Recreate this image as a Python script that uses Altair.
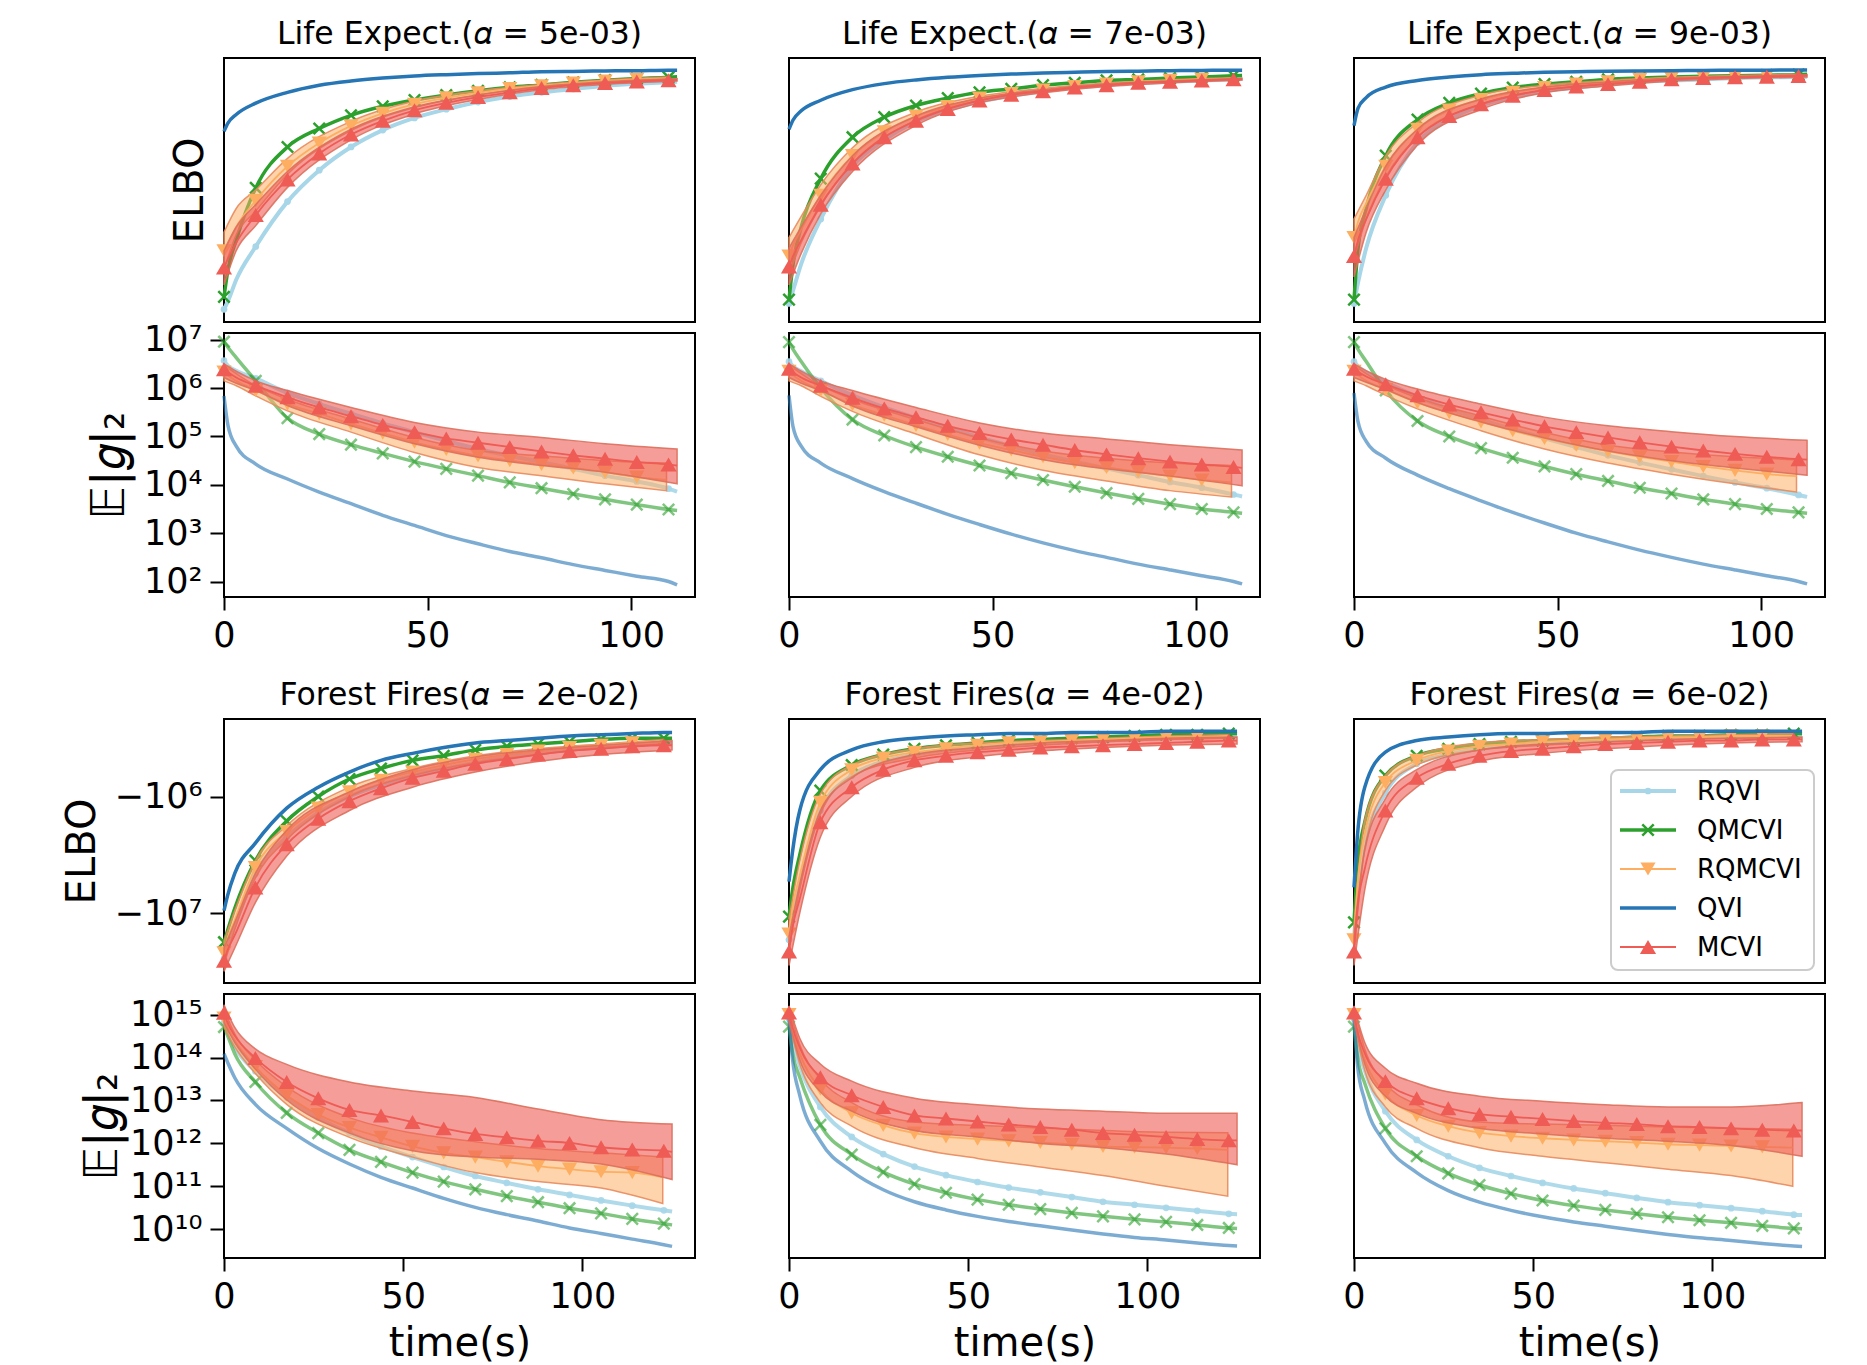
import altair as alt
import pandas as pd

FONT = "DejaVu Sans"
METHODS = ["RQVI", "QMCVI", "RQMCVI", "QVI", "MCVI"]

# ---------------- x grids (seconds) ----------------
MARK_LE = [0, 7.8, 15.6, 23.4, 31.2, 39.0, 46.8, 54.6, 62.4, 70.2, 78.0, 85.8, 93.6, 101.4, 109.2]
X_LE = [0, 1, 3, 7.8, 15.6, 23.4, 31.2, 39.0, 46.8, 54.6, 62.4, 70.2, 78.0, 85.8, 93.6, 101.4, 109.2, 111.3]
X_LE_RQMC = [0, 1, 3, 7.8, 15.6, 23.4, 31.2, 39.0, 46.8, 54.6, 62.4, 70.2, 78.0, 85.8, 93.6, 101.4, 108.7]
BX_LE = [0, 3, 7.8, 15.6, 31.2, 46.8, 62.4, 78.0, 93.6, 111.3]
BX_LE_RQMC = [0, 3, 7.8, 15.6, 31.2, 46.8, 62.4, 78.0, 93.6, 108.7]

MARK_FF = [0, 8.75, 17.5, 26.3, 35.0, 43.8, 52.6, 61.3, 70.1, 78.9, 87.6, 96.4, 105.2, 113.9, 122.7]
X_FF = [0, 1, 3, 8.75, 17.5, 26.3, 35.0, 43.8, 52.6, 61.3, 70.1, 78.9, 87.6, 96.4, 105.2, 113.9, 122.7, 125.0]
X_FF_RQMC = [0, 1, 3, 8.75, 17.5, 26.3, 35.0, 43.8, 52.6, 61.3, 70.1, 78.9, 87.6, 96.4, 105.2, 113.9, 122.4]
BX_FF = [0, 3, 8.75, 17.5, 35.0, 52.6, 70.1, 87.6, 105.2, 125.0]
BX_FF_RQMC = [0, 3, 8.75, 17.5, 35.0, 52.6, 70.1, 87.6, 105.2, 122.4]

LE_TITLES = ["Life Expect.(𝛼 = 5e-03)", "Life Expect.(𝛼 = 7e-03)", "Life Expect.(𝛼 = 9e-03)"]
FF_TITLES = ["Forest Fires(𝛼 = 2e-02)", "Forest Fires(𝛼 = 4e-02)", "Forest Fires(𝛼 = 6e-02)"]

# ---------------- values: log10(-ELBO) and log10(E|g|2) ----------------
LE1_ELBO = {
    "QVI": [3.278, 3.246, 3.214, 3.171, 3.130, 3.103, 3.087, 3.076, 3.068, 3.063, 3.059, 3.056, 3.052, 3.051, 3.049, 3.048, 3.046, 3.046],
    "QMCVI": [3.905, 3.80, 3.69, 3.492, 3.337, 3.267, 3.217, 3.183, 3.159, 3.140, 3.124, 3.111, 3.102, 3.092, 3.084, 3.078, 3.073, 3.071],
    "RQVI": [3.952, 3.92, 3.84, 3.714, 3.544, 3.425, 3.337, 3.273, 3.227, 3.194, 3.167, 3.146, 3.130, 3.117, 3.106, 3.098, 3.092, 3.090],
    "RQMCVI": [3.73, 3.70, 3.64, 3.54, 3.41, 3.322, 3.257, 3.21, 3.175, 3.151, 3.132, 3.116, 3.105, 3.095, 3.087, 3.081, 3.077],
    "MCVI": [3.794, 3.76, 3.70, 3.595, 3.46, 3.362, 3.29, 3.238, 3.198, 3.17, 3.148, 3.13, 3.114, 3.103, 3.095, 3.089, 3.084, 3.083],
}
LE1_ELBO_BAND = {
    "RQMCVI": ([3.66, 3.57, 3.50, 3.38, 3.24, 3.163, 3.125, 3.10, 3.083, 3.072], [3.80, 3.67, 3.58, 3.44, 3.275, 3.188, 3.14, 3.11, 3.092, 3.08]),
    "MCVI": ([3.73, 3.64, 3.555, 3.43, 3.27, 3.185, 3.14, 3.108, 3.09, 3.079], [3.86, 3.73, 3.635, 3.49, 3.31, 3.212, 3.157, 3.12, 3.10, 3.087]),
}
LE2_ELBO = {
    "QVI": [3.27, 3.235, 3.20, 3.16, 3.12, 3.097, 3.083, 3.073, 3.066, 3.061, 3.057, 3.054, 3.051, 3.05, 3.048, 3.047, 3.046, 3.046],
    "QMCVI": [3.915, 3.78, 3.64, 3.457, 3.30, 3.224, 3.18, 3.152, 3.13, 3.117, 3.103, 3.094, 3.085, 3.081, 3.076, 3.072, 3.067, 3.066],
    "RQVI": [3.93, 3.88, 3.78, 3.61, 3.41, 3.31, 3.24, 3.197, 3.166, 3.143, 3.126, 3.112, 3.103, 3.094, 3.09, 3.085, 3.081, 3.08],
    "RQMCVI": [3.75, 3.71, 3.65, 3.52, 3.37, 3.28, 3.22, 3.184, 3.152, 3.135, 3.121, 3.108, 3.099, 3.09, 3.085, 3.081, 3.078],
    "MCVI": [3.79, 3.75, 3.69, 3.556, 3.40, 3.30, 3.238, 3.193, 3.161, 3.139, 3.126, 3.112, 3.103, 3.094, 3.09, 3.085, 3.081, 3.08],
}
LE2_ELBO_BAND = {
    "RQMCVI": ([3.68, 3.60, 3.48, 3.34, 3.205, 3.145, 3.115, 3.095, 3.082, 3.075], [3.82, 3.70, 3.56, 3.40, 3.235, 3.16, 3.127, 3.104, 3.088, 3.081]),
    "MCVI": ([3.72, 3.64, 3.52, 3.37, 3.22, 3.152, 3.12, 3.098, 3.086, 3.077], [3.86, 3.74, 3.59, 3.43, 3.255, 3.17, 3.132, 3.108, 3.094, 3.083]),
}
LE3_ELBO = {
    "QVI": [3.256, 3.19, 3.15, 3.11, 3.085, 3.072, 3.063, 3.058, 3.054, 3.052, 3.05, 3.049, 3.048, 3.047, 3.046, 3.046, 3.045, 3.045],
    "QMCVI": [3.915, 3.72, 3.57, 3.37, 3.233, 3.17, 3.135, 3.112, 3.099, 3.09, 3.081, 3.076, 3.072, 3.069, 3.067, 3.065, 3.063, 3.062],
    "RQVI": [3.93, 3.85, 3.72, 3.52, 3.32, 3.233, 3.18, 3.148, 3.126, 3.112, 3.099, 3.09, 3.085, 3.081, 3.076, 3.073, 3.072, 3.071],
    "RQMCVI": [3.68, 3.62, 3.55, 3.41, 3.27, 3.197, 3.157, 3.13, 3.112, 3.099, 3.09, 3.081, 3.076, 3.072, 3.07, 3.067, 3.066],
    "MCVI": [3.75, 3.69, 3.61, 3.457, 3.30, 3.22, 3.175, 3.143, 3.121, 3.108, 3.099, 3.09, 3.081, 3.076, 3.073, 3.071, 3.068, 3.067],
}
LE3_ELBO_BAND = {
    "RQMCVI": ([3.61, 3.52, 3.37, 3.245, 3.14, 3.103, 3.085, 3.073, 3.066, 3.062], [3.76, 3.61, 3.45, 3.30, 3.175, 3.122, 3.096, 3.08, 3.074, 3.07]),
    "MCVI": ([3.68, 3.57, 3.41, 3.27, 3.155, 3.11, 3.09, 3.076, 3.069, 3.063], [3.83, 3.66, 3.50, 3.33, 3.195, 3.132, 3.106, 3.087, 3.078, 3.072]),
}

LE1_GRAD = {
    "QVI": [5.84, 5.22, 4.80, 4.43, 4.12, 3.85, 3.61, 3.37, 3.16, 2.95, 2.78, 2.62, 2.49, 2.35, 2.23, 2.11, 2.00, 1.93],
    "QMCVI": [6.96, 6.84, 6.63, 6.15, 5.38, 5.05, 4.83, 4.65, 4.48, 4.33, 4.19, 4.05, 3.93, 3.81, 3.70, 3.59, 3.49, 3.47],
    "RQVI": [6.57, 6.46, 6.36, 6.20, 5.90, 5.67, 5.47, 5.27, 5.09, 4.91, 4.74, 4.60, 4.47, 4.33, 4.19, 4.07, 3.92, 3.86],
    "RQMCVI": [6.33, 6.26, 6.15, 5.95, 5.67, 5.47, 5.26, 5.07, 4.88, 4.73, 4.60, 4.50, 4.42, 4.35, 4.26, 4.16, 4.10],
    "MCVI": [6.39, 6.33, 6.22, 6.05, 5.81, 5.60, 5.42, 5.24, 5.09, 4.96, 4.87, 4.78, 4.69, 4.61, 4.54, 4.47, 4.42, 4.40],
}
LE1_GRAD_BAND = {
    "RQMCVI": ([6.15, 6.05, 5.84, 5.53, 5.09, 4.67, 4.36, 4.19, 4.02, 3.88], [6.47, 6.30, 6.05, 5.77, 5.36, 4.98, 4.71, 4.60, 4.50, 4.45]),
    "MCVI": ([6.22, 6.10, 5.95, 5.64, 5.22, 4.85, 4.57, 4.40, 4.26, 4.02], [6.50, 6.35, 6.15, 5.95, 5.60, 5.29, 5.09, 4.98, 4.85, 4.74]),
}
LE2_GRAD = {
    "QVI": [5.85, 5.20, 4.80, 4.45, 4.13, 3.86, 3.62, 3.39, 3.18, 2.98, 2.80, 2.64, 2.50, 2.36, 2.24, 2.12, 2.00, 1.95],
    "QMCVI": [6.95, 6.80, 6.55, 6.00, 5.35, 5.02, 4.78, 4.58, 4.40, 4.24, 4.10, 3.96, 3.83, 3.71, 3.60, 3.50, 3.43, 3.41],
    "RQVI": [6.55, 6.45, 6.35, 6.15, 5.85, 5.60, 5.38, 5.18, 4.98, 4.80, 4.63, 4.48, 4.34, 4.20, 4.06, 3.94, 3.80, 3.76],
    "RQMCVI": [6.35, 6.27, 6.15, 5.95, 5.66, 5.44, 5.23, 5.04, 4.86, 4.72, 4.58, 4.46, 4.36, 4.27, 4.18, 4.10, 4.05],
    "MCVI": [6.40, 6.33, 6.22, 6.05, 5.80, 5.58, 5.40, 5.22, 5.07, 4.94, 4.83, 4.72, 4.63, 4.55, 4.48, 4.42, 4.37, 4.35],
}
LE2_GRAD_BAND = {
    "RQMCVI": ([6.15, 6.05, 5.83, 5.52, 5.05, 4.62, 4.30, 4.08, 3.88, 3.75], [6.48, 6.30, 6.05, 5.77, 5.35, 4.97, 4.70, 4.55, 4.45, 4.40]),
    "MCVI": ([6.22, 6.10, 5.95, 5.63, 5.20, 4.82, 4.52, 4.33, 4.18, 3.98], [6.50, 6.35, 6.15, 5.95, 5.60, 5.28, 5.07, 4.95, 4.83, 4.72]),
}
LE3_GRAD = {
    "QVI": [5.90, 5.30, 4.90, 4.55, 4.20, 3.92, 3.67, 3.43, 3.21, 3.00, 2.82, 2.65, 2.50, 2.36, 2.24, 2.12, 2.00, 1.95],
    "QMCVI": [6.95, 6.80, 6.55, 5.95, 5.32, 5.00, 4.76, 4.56, 4.38, 4.22, 4.08, 3.94, 3.82, 3.70, 3.60, 3.50, 3.43, 3.41],
    "RQVI": [6.55, 6.45, 6.33, 6.12, 5.82, 5.57, 5.35, 5.15, 4.96, 4.78, 4.61, 4.46, 4.32, 4.18, 4.05, 3.93, 3.79, 3.75],
    "RQMCVI": [6.35, 6.27, 6.15, 5.97, 5.70, 5.49, 5.30, 5.12, 4.96, 4.82, 4.69, 4.58, 4.48, 4.38, 4.30, 4.22, 4.18],
    "MCVI": [6.40, 6.34, 6.24, 6.08, 5.85, 5.66, 5.50, 5.35, 5.21, 5.09, 4.98, 4.88, 4.79, 4.71, 4.64, 4.58, 4.53, 4.52],
}
LE3_GRAD_BAND = {
    "RQMCVI": ([6.15, 6.05, 5.85, 5.57, 5.12, 4.74, 4.45, 4.22, 4.02, 3.85], [6.48, 6.30, 6.07, 5.80, 5.42, 5.08, 4.82, 4.68, 4.58, 4.52]),
    "MCVI": ([6.22, 6.12, 5.97, 5.70, 5.30, 4.97, 4.70, 4.50, 4.35, 4.20], [6.50, 6.36, 6.18, 5.98, 5.67, 5.40, 5.22, 5.10, 5.00, 4.92]),
}

FF1_ELBO = {
    "QVI": [6.98, 6.85, 6.66, 6.40, 6.10, 5.92, 5.79, 5.69, 5.63, 5.58, 5.54, 5.52, 5.50, 5.48, 5.47, 5.46, 5.45, 5.45],
    "QMCVI": [7.25, 7.15, 6.96, 6.55, 6.21, 6.00, 5.85, 5.76, 5.69, 5.65, 5.60, 5.57, 5.55, 5.53, 5.51, 5.50, 5.50, 5.50],
    "RQVI": [7.39, 7.28, 7.11, 6.66, 6.35, 6.14, 6.00, 5.90, 5.82, 5.76, 5.71, 5.66, 5.63, 5.60, 5.58, 5.56, 5.54, 5.54],
    "RQMCVI": [7.34, 7.22, 7.06, 6.61, 6.30, 6.10, 5.96, 5.86, 5.79, 5.73, 5.68, 5.64, 5.61, 5.58, 5.56, 5.54, 5.53],
    "MCVI": [7.41, 7.32, 7.19, 6.78, 6.41, 6.19, 6.04, 5.93, 5.84, 5.78, 5.72, 5.68, 5.64, 5.61, 5.59, 5.57, 5.56, 5.56],
}
FF1_ELBO_BAND = {
    "RQMCVI": ([7.24, 6.98, 6.55, 6.25, 5.92, 5.76, 5.65, 5.59, 5.55, 5.51], [7.45, 7.14, 6.70, 6.37, 6.00, 5.82, 5.71, 5.64, 5.58, 5.55]),
    "MCVI": ([7.30, 7.08, 6.66, 6.29, 5.96, 5.77, 5.66, 5.60, 5.56, 5.52], [7.50, 7.30, 6.91, 6.51, 6.12, 5.92, 5.79, 5.70, 5.64, 5.60]),
}
FF2_ELBO = {
    "QVI": [6.73, 6.47, 6.12, 5.77, 5.60, 5.53, 5.50, 5.48, 5.47, 5.46, 5.46, 5.45, 5.45, 5.45, 5.44, 5.44, 5.44, 5.44],
    "QMCVI": [7.03, 6.80, 6.50, 5.95, 5.73, 5.64, 5.59, 5.56, 5.54, 5.52, 5.51, 5.50, 5.49, 5.48, 5.47, 5.47, 5.46, 5.46],
    "RQVI": [7.23, 7.00, 6.73, 6.12, 5.82, 5.70, 5.64, 5.60, 5.58, 5.56, 5.54, 5.53, 5.52, 5.51, 5.50, 5.49, 5.48, 5.48],
    "RQMCVI": [7.18, 6.95, 6.68, 6.05, 5.77, 5.67, 5.62, 5.59, 5.56, 5.54, 5.53, 5.52, 5.51, 5.50, 5.49, 5.49, 5.48],
    "MCVI": [7.33, 7.12, 6.88, 6.22, 5.92, 5.77, 5.69, 5.65, 5.62, 5.60, 5.58, 5.57, 5.56, 5.55, 5.54, 5.53, 5.52, 5.52],
}
FF2_ELBO_BAND = {
    "RQMCVI": ([7.05, 6.55, 5.98, 5.73, 5.59, 5.54, 5.52, 5.50, 5.48, 5.47], [7.30, 6.80, 6.15, 5.83, 5.67, 5.60, 5.56, 5.53, 5.51, 5.50]),
    "MCVI": ([7.20, 6.75, 6.12, 5.84, 5.64, 5.58, 5.54, 5.52, 5.50, 5.49], [7.45, 7.00, 6.35, 6.00, 5.75, 5.66, 5.61, 5.58, 5.56, 5.55]),
}
FF3_ELBO = {
    "QVI": [6.78, 6.32, 5.92, 5.62, 5.52, 5.49, 5.47, 5.46, 5.46, 5.45, 5.45, 5.45, 5.44, 5.44, 5.44, 5.44, 5.44, 5.44],
    "QMCVI": [7.08, 6.60, 6.22, 5.82, 5.65, 5.59, 5.55, 5.53, 5.52, 5.51, 5.50, 5.49, 5.48, 5.48, 5.47, 5.47, 5.46, 5.46],
    "RQVI": [7.23, 6.80, 6.42, 5.97, 5.72, 5.64, 5.59, 5.56, 5.54, 5.53, 5.52, 5.51, 5.50, 5.49, 5.49, 5.48, 5.48, 5.48],
    "RQMCVI": [7.23, 6.75, 6.32, 5.88, 5.69, 5.61, 5.57, 5.55, 5.53, 5.52, 5.51, 5.50, 5.49, 5.49, 5.48, 5.48, 5.48],
    "MCVI": [7.33, 6.95, 6.62, 6.12, 5.84, 5.72, 5.65, 5.61, 5.59, 5.57, 5.55, 5.54, 5.53, 5.52, 5.52, 5.51, 5.51, 5.51],
}
FF3_ELBO_BAND = {
    "RQMCVI": ([7.10, 6.20, 5.82, 5.65, 5.54, 5.51, 5.49, 5.48, 5.47, 5.46], [7.35, 6.45, 5.95, 5.73, 5.60, 5.56, 5.53, 5.51, 5.50, 5.49]),
    "MCVI": ([7.20, 6.45, 6.02, 5.77, 5.60, 5.55, 5.53, 5.51, 5.50, 5.49], [7.45, 6.80, 6.25, 5.92, 5.70, 5.63, 5.59, 5.56, 5.54, 5.53]),
}

FF1_GRAD = {
    "QVI": [14.09, 13.89, 13.53, 12.91, 12.35, 11.88, 11.52, 11.21, 10.96, 10.72, 10.51, 10.34, 10.19, 10.03, 9.90, 9.77, 9.64, 9.60],
    "QMCVI": [14.71, 14.51, 14.09, 13.43, 12.71, 12.24, 11.85, 11.57, 11.32, 11.11, 10.93, 10.77, 10.63, 10.49, 10.37, 10.24, 10.13, 10.10],
    "RQVI": [14.81, 14.61, 14.25, 13.68, 13.07, 12.60, 12.24, 11.93, 11.68, 11.45, 11.24, 11.08, 10.93, 10.80, 10.67, 10.55, 10.44, 10.41],
    "RQMCVI": [14.92, 14.71, 14.40, 13.79, 13.12, 12.67, 12.37, 12.14, 11.93, 11.78, 11.68, 11.57, 11.47, 11.40, 11.34, 11.32, 11.21],
    "MCVI": [15.04, 14.81, 14.51, 13.99, 13.43, 13.05, 12.78, 12.65, 12.50, 12.35, 12.22, 12.14, 12.06, 12.01, 11.91, 11.86, 11.83, 11.80],
}
FF1_GRAD_BAND = {
    "RQMCVI": ([14.71, 14.25, 13.63, 12.91, 12.14, 11.68, 11.32, 11.11, 10.96, 10.60], [15.12, 14.55, 13.94, 13.32, 12.60, 12.24, 12.04, 11.88, 11.78, 11.68]),
    "MCVI": ([14.81, 14.35, 13.73, 13.01, 12.24, 11.83, 11.68, 11.63, 11.52, 11.16], [15.23, 14.70, 14.20, 13.84, 13.43, 13.22, 13.07, 12.80, 12.55, 12.45]),
}
FF2_GRAD = {
    "QVI": [14.90, 13.95, 13.12, 12.05, 11.35, 10.92, 10.64, 10.45, 10.30, 10.18, 10.08, 9.98, 9.89, 9.81, 9.75, 9.68, 9.62, 9.61],
    "QMCVI": [14.72, 14.10, 13.54, 12.43, 11.74, 11.33, 11.05, 10.85, 10.69, 10.57, 10.47, 10.38, 10.30, 10.23, 10.17, 10.10, 10.03, 10.02],
    "RQVI": [14.90, 14.40, 13.81, 12.85, 12.15, 11.75, 11.46, 11.26, 11.10, 10.97, 10.86, 10.75, 10.64, 10.57, 10.50, 10.43, 10.36, 10.35],
    "RQMCVI": [15.00, 14.60, 14.09, 13.26, 12.71, 12.42, 12.24, 12.15, 12.10, 12.06, 12.02, 11.98, 11.93, 11.91, 11.90, 11.88, 11.85],
    "MCVI": [15.05, 14.70, 14.23, 13.54, 13.12, 12.85, 12.65, 12.58, 12.51, 12.44, 12.38, 12.32, 12.24, 12.20, 12.15, 12.10, 12.07, 12.07],
}
FF2_GRAD_BAND = {
    "RQMCVI": ([14.80, 13.85, 12.95, 12.40, 11.90, 11.65, 11.45, 11.25, 11.00, 10.77], [15.15, 14.30, 13.50, 12.95, 12.50, 12.42, 12.36, 12.30, 12.26, 12.25]),
    "MCVI": ([14.85, 13.95, 13.20, 12.75, 12.30, 12.15, 12.00, 11.90, 11.75, 11.50], [15.20, 14.45, 13.85, 13.45, 13.05, 12.90, 12.80, 12.75, 12.70, 12.70]),
}
FF3_GRAD = {
    "QVI": [14.90, 13.80, 13.00, 12.00, 11.32, 10.90, 10.63, 10.44, 10.29, 10.17, 10.07, 9.97, 9.88, 9.80, 9.74, 9.67, 9.61, 9.60],
    "QMCVI": [14.72, 14.00, 13.40, 12.35, 11.70, 11.30, 11.03, 10.83, 10.67, 10.55, 10.45, 10.36, 10.28, 10.21, 10.15, 10.08, 10.02, 10.01],
    "RQVI": [14.90, 14.30, 13.70, 12.75, 12.08, 11.70, 11.43, 11.24, 11.08, 10.95, 10.84, 10.73, 10.63, 10.56, 10.49, 10.42, 10.34, 10.33],
    "RQMCVI": [15.00, 14.50, 13.95, 13.15, 12.65, 12.40, 12.25, 12.17, 12.12, 12.08, 12.05, 12.02, 11.98, 11.96, 11.94, 11.92, 11.90],
    "MCVI": [15.05, 14.60, 14.10, 13.45, 13.05, 12.82, 12.68, 12.62, 12.57, 12.52, 12.48, 12.45, 12.40, 12.38, 12.35, 12.32, 12.30, 12.30],
}
FF3_GRAD_BAND = {
    "RQMCVI": ([14.80, 13.70, 12.85, 12.35, 11.90, 11.70, 11.55, 11.40, 11.25, 11.00], [15.15, 14.20, 13.40, 12.90, 12.50, 12.45, 12.42, 12.38, 12.35, 12.33]),
    "MCVI": ([14.85, 13.85, 13.10, 12.70, 12.35, 12.22, 12.12, 12.05, 11.95, 11.70], [15.20, 14.35, 13.75, 13.40, 13.10, 12.98, 12.90, 12.85, 12.85, 12.95]),
}

# ---------------- styling ----------------
COLOR = {"RQVI": "#a6d6e8", "QMCVI": "#2ca02c", "RQMCVI": "#fdae61", "QVI": "#2675b5", "MCVI": "#ef5b55"}
BAND_FILL = {"RQMCVI": "#fdb06a", "MCVI": "#ef5b55"}
BAND_EDGE = {"RQMCVI": "#e98a5c", "MCVI": "#dc6f5c"}
BAND_OP = {"RQMCVI": 0.55, "MCVI": 0.6}
LINE_W = {"RQVI": 4, "QMCVI": 3.5, "RQMCVI": 1.8, "QVI": 3.5, "MCVI": 1.8}
GRAD_OP = {"RQVI": 0.9, "QMCVI": 0.6, "RQMCVI": 1.0, "QVI": 0.6, "MCVI": 1.0}
SHAPE = {"RQVI": "circle", "QMCVI": "M-1,-1L1,1M-1,1L1,-1", "RQMCVI": "triangle-down", "MCVI": "triangle-up"}
SIZE = {"RQVI": 45, "QMCVI": 130, "RQMCVI": 230, "MCVI": 260}

W, H = 471, 264
X_DOMAIN = {"LE": [0, 115.7], "FF": [0, 131.4]}
Y_DOMAIN = {("LE", "elbo"): [3.0, 4.0], ("LE", "grad"): [1.68, 7.14],
            ("FF", "elbo"): [5.335, 7.6], ("FF", "grad"): [9.33, 15.48]}
GRID = {"LE": (X_LE, X_LE_RQMC, BX_LE, BX_LE_RQMC, MARK_LE), "FF": (X_FF, X_FF_RQMC, BX_FF, BX_FF_RQMC, MARK_FF)}

SUP = str.maketrans("0123456789", "⁰¹²³⁴⁵⁶⁷⁸⁹")
TICK_FS = 35


def sup_label_expr(vals, neg=False):
    parts = []
    for v in vals:
        s = ("\u2212" if neg else "") + "10" + str(v).translate(SUP)
        parts.append(f"datum.value == {v} ? '{s}'")
    return " : ".join(parts) + " : ''"


def x_axis(ds, kind):
    if kind != "grad":
        return None
    kw = dict(values=[0, 50, 100], format="d", labelFontSize=TICK_FS, tickSize=13, labelPadding=8,
              labelFlush=False, labelOverlap=False, titleFontSize=40, titlePadding=9)
    if ds == "FF":
        return alt.Axis(title="time(s)", **kw)
    return alt.Axis(title=None, **kw)


def y_axis(ds, kind, col):
    if col != 0:
        return None
    if ds == "LE" and kind == "elbo":
        return alt.Axis(title="ELBO", labels=False, ticks=False, titleFontSize=40, titlePadding=14)
    if kind == "elbo":
        vals = [6, 7]
        return alt.Axis(title="ELBO", values=vals, labelExpr=sup_label_expr(vals, neg=True), tickSize=14,
                        labelPadding=8, labelFontSize=TICK_FS, labelFlush=False, titleFontSize=40,
                        titlePadding=12)
    vals = [2, 3, 4, 5, 6, 7] if ds == "LE" else [10, 11, 12, 13, 14, 15]
    return alt.Axis(title="𝔼|𝑔|₂", values=vals, labelExpr=sup_label_expr(vals), tickSize=14,
                    labelPadding=8, labelFontSize=TICK_FS, labelFlush=False, titleFontSize=46,
                    titlePadding=(10 if ds == "LE" else 3))


def make_panel(vals, bands, ds, kind, col, title=None, legend=False):
    xg, xg_r, bx, bx_r, marks = GRID[ds]
    xs = alt.Scale(domain=X_DOMAIN[ds], nice=False, zero=False)
    ys = alt.Scale(domain=Y_DOMAIN[(ds, kind)], nice=False, zero=False, reverse=(kind == "elbo"))
    xa = x_axis(ds, kind)
    ya = y_axis(ds, kind, col)
    layers = []
    for m in METHODS:
        op = GRAD_OP[m] if kind == "grad" else 1.0
        if m in bands:
            lo, hi = bands[m]
            df_b = pd.DataFrame({"t": bx_r if m == "RQMCVI" else bx, "lo": lo, "hi": hi})
            layers.append(
                alt.Chart(df_b).mark_area(fill=BAND_FILL[m], fillOpacity=BAND_OP[m], stroke=BAND_EDGE[m],
                                          strokeWidth=1.5, strokeOpacity=0.9, interpolate="monotone")
                .encode(x=alt.X("t:Q", scale=xs, axis=xa), y=alt.Y("lo:Q", scale=ys, axis=ya), y2="hi:Q")
            )
        df = pd.DataFrame({"t": xg_r if m == "RQMCVI" else xg, "v": vals[m]})
        df["mk"] = df["t"].isin(marks)
        base = alt.Chart(df).encode(x=alt.X("t:Q", scale=xs, axis=xa), y=alt.Y("v:Q", scale=ys, axis=ya))
        layers.append(base.mark_line(color=COLOR[m], strokeWidth=LINE_W[m], opacity=op, interpolate="monotone"))
        if m in SHAPE:
            if m == "QMCVI":
                mk = base.mark_point(shape=SHAPE[m], size=SIZE[m], filled=False, color=COLOR[m],
                                     strokeWidth=2.5, opacity=op)
            else:
                mk = base.mark_point(shape=SHAPE[m], size=SIZE[m], filled=True, color=COLOR[m], opacity=op)
            layers.append(mk.transform_filter("datum.mk"))
    if legend:
        one = pd.DataFrame({"k": [0]})
        layers.append(alt.Chart(one).mark_rect(cornerRadius=7, fill="white", fillOpacity=0.8, stroke="#cccccc",
                                               strokeWidth=2)
                      .encode(x=alt.value(257), x2=alt.value(460), y=alt.value(51), y2=alt.value(251)))
        for i, m in enumerate(METHODS):
            ly = 72 + 39 * i
            layers.append(alt.Chart(one).mark_rule(color=COLOR[m], strokeWidth=LINE_W[m])
                          .encode(x=alt.value(266), x2=alt.value(322), y=alt.value(ly)))
            if m in SHAPE:
                if m == "QMCVI":
                    pm = alt.Chart(one).mark_point(shape=SHAPE[m], size=SIZE[m], filled=False, color=COLOR[m],
                                                   strokeWidth=2.5, opacity=1)
                else:
                    pm = alt.Chart(one).mark_point(shape=SHAPE[m], size=SIZE[m], filled=True, color=COLOR[m],
                                                   opacity=1)
                layers.append(pm.encode(x=alt.value(294), y=alt.value(ly)))
            layers.append(alt.Chart(one).mark_text(text=m, align="left", baseline="middle", fontSize=26,
                                                   font=FONT, color="black")
                          .encode(x=alt.value(343), y=alt.value(ly + 1)))
    props = dict(width=W, height=H)
    if title:
        props["title"] = alt.TitleParams(text=title, fontSize=31.5, font=FONT, fontWeight="normal",
                                         color="black", offset=7.5)
    return alt.layer(*layers).properties(**props)


def spacer(h):
    return (alt.Chart(pd.DataFrame({"k": [0]})).mark_point(opacity=0)
            .encode(x=alt.value(0), y=alt.value(0))
            .properties(width=W, height=h, view=alt.ViewBackground(stroke="transparent")))


LE_E = [LE1_ELBO, LE2_ELBO, LE3_ELBO]
LE_EB = [LE1_ELBO_BAND, LE2_ELBO_BAND, LE3_ELBO_BAND]
LE_G = [LE1_GRAD, LE2_GRAD, LE3_GRAD]
LE_GB = [LE1_GRAD_BAND, LE2_GRAD_BAND, LE3_GRAD_BAND]
FF_E = [FF1_ELBO, FF2_ELBO, FF3_ELBO]
FF_EB = [FF1_ELBO_BAND, FF2_ELBO_BAND, FF3_ELBO_BAND]
FF_G = [FF1_GRAD, FF2_GRAD, FF3_GRAD]
FF_GB = [FF1_GRAD_BAND, FF2_GRAD_BAND, FF3_GRAD_BAND]

cells = []
for c in range(3):
    cells.append(make_panel(LE_E[c], LE_EB[c], "LE", "elbo", c, title=LE_TITLES[c]))
for c in range(3):
    cells.append(make_panel(LE_G[c], LE_GB[c], "LE", "grad", c))
for c in range(3):
    cells.append(spacer(100))
for c in range(3):
    cells.append(make_panel(FF_E[c], FF_EB[c], "FF", "elbo", c, title=FF_TITLES[c], legend=(c == 2)))
for c in range(3):
    cells.append(make_panel(FF_G[c], FF_GB[c], "FF", "grad", c))

chart = (
    alt.concat(*cells, columns=3, spacing={"row": 11, "column": 94}, bounds="flush")
    .properties(padding={"left": 53, "top": 10, "right": 5, "bottom": 5}, background="white")
    .configure(font=FONT)
    .configure_view(stroke="black", strokeWidth=2)
    .configure_axis(labelFont=FONT, titleFont=FONT, labelColor="black", titleColor="black", tickColor="black",
                    tickWidth=2, grid=False, domain=False, titleFontWeight="normal")
    .configure_title(font=FONT, fontSize=31.5, fontWeight="normal", color="black")
)

chart.save("out.html", embed_options={"renderer": "svg", "actions": False})
